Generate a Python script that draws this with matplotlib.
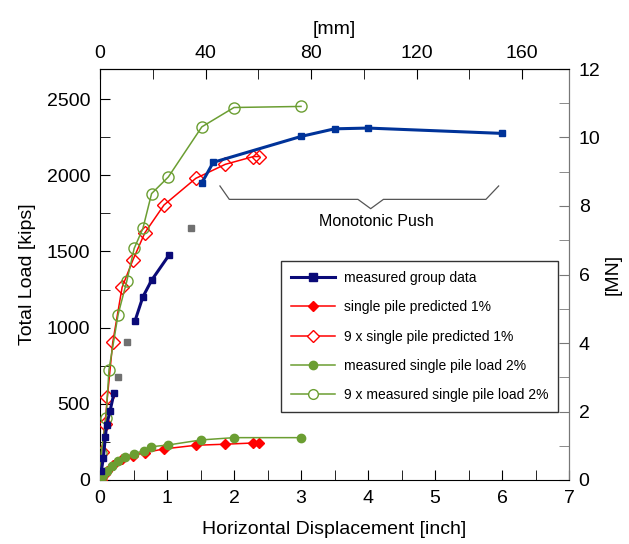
import matplotlib
matplotlib.use("Agg")
import matplotlib.pyplot as plt

plt.rcParams["font.family"] = ["Liberation Sans", "DejaVu Sans"]

KIPS_PER_MN = 1000.0 / 4.448222
MM_PER_INCH = 25.4

# measured group data (cyclic part, dark navy)
grp_x1 = [0.02, 0.05, 0.08, 0.10, 0.15, 0.21]
grp_y1 = [60, 145, 283, 362, 454, 572]
grp_x2 = [0.52, 0.64, 0.77, 1.03]
grp_y2 = [1041, 1202, 1311, 1476]
# measured group data, monotonic push
grp_x3 = [1.52, 1.69, 3.0, 3.5, 4.0, 6.0]
grp_y3 = [1950, 2085, 2255, 2305, 2310, 2275]
# isolated grey points
grey_x = [0.27, 0.40, 1.36]
grey_y = [676, 906, 1651]

# single pile predicted 1%
sp_x = [0.0, 0.025, 0.075, 0.11, 0.19, 0.33, 0.49, 0.67, 0.955, 1.43, 1.87, 2.29, 2.38]
sp_y = [0, 21, 41, 60, 100, 140, 160, 180, 204, 228, 235, 243, 243]
# 9 x single pile predicted 1%
sp9_x = [0.0, 0.025, 0.075, 0.11, 0.19, 0.33, 0.49, 0.67, 0.955, 1.43, 1.87, 2.29, 2.38]
sp9_y = [0, 186, 366, 544, 903, 1265, 1443, 1623, 1805, 1980, 2072, 2123, 2123]

# measured single pile load 2%
ms_x = [0.0, 0.05, 0.10, 0.18, 0.27, 0.38, 0.51, 0.65, 0.76, 1.02, 1.51, 2.0, 3.0]
ms_y = [0, 30, 61, 92, 127, 149, 171, 193, 218, 230, 263, 278, 278]
# 9 x measured single pile load 2%
ms9_x = [0.0, 0.02, 0.09, 0.134, 0.27, 0.40, 0.51, 0.64, 0.77, 1.02, 1.52, 2.0, 3.0]
ms9_y = [0, 180, 410, 724, 1086, 1305, 1520, 1651, 1880, 1989, 2318, 2445, 2452]

NAVY = "#0a0a78"
BLUE = "#003399"
RED = "#ff0000"
GREEN = "#6b9e32"
GREY = "#707070"

fig = plt.figure(figsize=(6.29, 5.44), dpi=100)
ax = fig.add_axes([100 / 629, 64 / 544, 469 / 629, 411 / 544])

ax.plot(grp_x1, grp_y1, color=NAVY, lw=2.2, marker="s", ms=5, zorder=4)
ax.plot(grp_x2, grp_y2, color=NAVY, lw=2.2, marker="s", ms=5, zorder=4)
ax.plot(grp_x3, grp_y3, color=BLUE, lw=2.2, marker="s", ms=5, zorder=4)
ax.plot(grey_x, grey_y, ls="none", color=GREY, marker="s", ms=5, zorder=4)

ax.plot(sp_x, sp_y, color=RED, lw=1.1, marker="D", ms=5, zorder=3)
ax.plot(sp9_x, sp9_y, color=RED, lw=1.1, marker="D", ms=7, mfc="none", mew=1.0, zorder=3)
ax.plot(ms_x, ms_y, color=GREEN, lw=1.1, marker="o", ms=6, zorder=3)
ax.plot(ms9_x, ms9_y, color=GREEN, lw=1.1, marker="o", ms=8, mfc="none", mew=1.0, zorder=3)

# legend handles (single marker each)
h = []
h += ax.plot([], [], color=NAVY, lw=2.2, marker="s", ms=6, label="measured group data")
h += ax.plot([], [], color=RED, lw=1.1, marker="D", ms=5, label="single pile predicted 1%")
h += ax.plot([], [], color=RED, lw=1.1, marker="D", ms=6, mfc="white", mew=1.0,
             label="9 x single pile predicted 1%")
h += ax.plot([], [], color=GREEN, lw=1.1, marker="o", ms=6, label="measured single pile load 2%")
h += ax.plot([], [], color=GREEN, lw=1.1, marker="o", ms=7, mfc="white", mew=1.0,
             label="9 x measured single pile load 2%")
leg = ax.legend(handles=h, loc="upper left", bbox_to_anchor=(0.386, 0.532), fontsize=10,
                frameon=True, fancybox=False, edgecolor="#333333", framealpha=1,
                handlelength=3.2, numpoints=1, labelspacing=1.1, borderpad=0.7,
                handletextpad=0.6, borderaxespad=0)
leg.get_frame().set_linewidth(1.0)

# "Monotonic Push" bracket
bx = [1.79, 1.93, 3.85, 4.04, 4.23, 5.76, 5.95]
by = [1930, 1842, 1842, 1781, 1842, 1842, 1930]
ax.plot(bx, by, color="#555555", lw=0.9)
ax.text(4.13, 1699, "Monotonic Push", ha="center", va="center", fontsize=11.5)

ax.set_xlim(0, 7)
ax.set_ylim(0, 12 * KIPS_PER_MN)
ax.set_xticks(range(0, 8))
ax.set_xticks([i * 0.5 for i in range(15)], minor=True)
ax.set_yticks(range(0, 2501, 500))
ax.set_yticks(range(0, 2700, 250), minor=True)
ax.tick_params(which="both", direction="in", labelsize=14, top=False, right=False)
ax.tick_params(which="major", length=7, pad=7)
ax.tick_params(which="minor", length=7)
ax.set_xlabel("Horizontal Displacement [inch]", fontsize=14, labelpad=10)
ax.set_ylabel("Total Load [kips]", fontsize=14, labelpad=8)
ax.spines["right"].set_color("#777777")

top = ax.secondary_xaxis("top", functions=(lambda x: x * MM_PER_INCH, lambda m: m / MM_PER_INCH))
top.set_xticks(range(0, 161, 40))
top.set_xticks(range(0, 180, 20), minor=True)
top.tick_params(which="both", direction="in", length=7, labelsize=14, pad=5)
top.set_xlabel("[mm]", fontsize=14, labelpad=8)

right = ax.secondary_yaxis("right", functions=(lambda k: k / KIPS_PER_MN, lambda m: m * KIPS_PER_MN))
right.set_yticks(range(0, 13, 2))
right.set_yticks(range(0, 13), minor=True)
right.tick_params(which="both", direction="in", length=7, labelsize=14, pad=7, color="#777777")
right.spines["right"].set_color("#777777")
right.set_ylabel("[MN]", fontsize=14, labelpad=3)

fig.savefig("out.png", dpi=100)
